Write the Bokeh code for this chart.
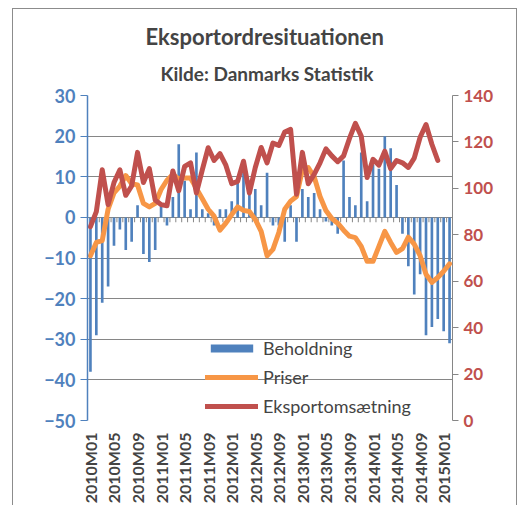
import math
from bokeh.plotting import figure
from bokeh.layouts import row
from bokeh.models import Range1d, LinearAxis, FixedTicker, Title, Legend, LegendItem, Spacer
from bokeh.embed import file_html
from bokeh.resources import INLINE

# ---------------- data ----------------
years = [2010, 2011, 2012, 2013, 2014, 2015]
months = [f"{y}M{m:02d}" for y in years for m in range(1, 13)][:62]

beholdning = [-38, -29, -21, -17, -7, -3, -8, -6, 3, -9, -11, -8,
              3, -2, 5, 18, 9, 2, 16, 2, 1, -2, 2, 2,
              4, 9, 11, 9, 7, 3, 11, -2, -2, -6, 3, -6,
              7, 5, 6, 2, -1, -2, -4, 14, 5, 3, 16, 4,
              13, 12, 20, 17, 8, -4, -12, -19, -14, -29, -27, -25,
              -28, -31]

priser = [71, 76.7, 77.5, 91, 98, 101, 105.5, 102, 101.5, 93.5, 92, 93.5,
          99.5, 103.5, 106, 104, 104.5, 104.5, 100, 95.5, 91, 88, 82, 85,
          88.7, 92, 90.5, 90, 86.6, 81.5, 71, 73.7, 81, 91, 94.5, 96.5,
          108, 109, 105, 96.5, 90.5, 87, 85, 82, 79.4, 78.8, 75, 68.6,
          68.6, 75, 81.5, 76.7, 72.4, 74, 79, 76, 71, 63, 59.5, 61.6,
          64.3, 67.5]

eksport = [83.5, 90, 108, 93, 102.5, 108, 97, 101, 115.5, 102.5, 108.5, 95,
           93, 92.5, 107.5, 99, 109.5, 111, 98, 108, 117.5, 112, 115, 110,
           102, 103, 111.7, 98, 109, 117.6, 111, 119.5, 118.5, 124.3, 125.4, 97.5,
           115.5, 102, 106, 111, 117, 114, 111.5, 114, 121.5, 128, 122.5, 104.7,
           112.5, 110, 116, 108.5, 112, 111, 109, 113, 122, 127.5, 119, 112]

title_text = "Eksportordresituationen"
subtitle_text = "Kilde: Danmarks Statistik"
left_ticks = [-50, -40, -30, -20, -10, 0, 10, 20, 30]
right_ticks = [0, 20, 40, 60, 80, 100, 120, 140]
label_step = 4

idx = list(range(len(months)))

BLUE = "#4F81BD"
ORANGE = "#F79646"
RED = "#C0504D"
GRID = "#868686"
FONT = "Lato"

p = figure(width=505, height=497,
           x_range=Range1d(-0.5, len(months) - 0.5),
           y_range=Range1d(left_ticks[0], left_ticks[-1]),
           output_backend="svg", toolbar_location=None,
           min_border_left=74, min_border_right=66,
           min_border_top=86, min_border_bottom=86,
           margin=(8, 0, 0, 5),
           styles={"border-top": "1px solid #8c8c8c",
                   "border-left": "1px solid #8c8c8c",
                   "border-right": "1px solid #8c8c8c"})
p.outline_line_color = None
p.background_fill_color = "white"
p.border_fill_color = "white"

# titles
p.title.text = title_text
p.title.align = "left"
p.title.offset = 58
p.title.text_font = FONT
p.title.text_font_size = "22px"
p.title.text_font_style = "bold"
p.title.standoff = 0
p.add_layout(Title(text=subtitle_text, align="left", offset=73,
                   text_font=FONT, text_font_size="19px",
                   text_font_style="bold", standoff=21), "above")

# grid
p.xgrid.visible = False
p.ygrid.ticker = FixedTicker(ticks=left_ticks)
p.ygrid.grid_line_color = GRID
p.ygrid.grid_line_width = 1

# left axis
ya = p.yaxis[0]
ya.ticker = FixedTicker(ticks=left_ticks)
ya.axis_line_color = BLUE
ya.axis_line_width = 1.5
ya.major_tick_line_color = BLUE
ya.major_tick_out = 7
ya.major_tick_in = 0
ya.minor_tick_line_color = None
ya.major_label_text_color = BLUE
ya.major_label_text_font = FONT
ya.major_label_text_font_style = "bold"
ya.major_label_text_font_size = "18px"
ya.major_label_standoff = 5

# right axis
p.extra_y_ranges = {"r": Range1d(right_ticks[0], right_ticks[-1])}
ra = LinearAxis(y_range_name="r", ticker=FixedTicker(ticks=right_ticks))
ra.axis_line_color = GRID
ra.major_tick_line_color = GRID
ra.major_tick_out = 6
ra.major_tick_in = 0
ra.minor_tick_line_color = None
ra.major_label_text_color = RED
ra.major_label_text_font = FONT
ra.major_label_text_font_style = "bold"
ra.major_label_text_font_size = "17px"
ra.major_label_standoff = 5
p.add_layout(ra, "right")

# bottom axis
xa = p.xaxis[0]
tick_idx = idx[::label_step]
xa.ticker = FixedTicker(ticks=tick_idx)
xa.major_label_overrides = {i: months[i] for i in tick_idx}
xa.major_label_orientation = math.pi / 2
xa.axis_line_color = None
xa.major_tick_line_color = None
xa.minor_tick_line_color = None
xa.major_label_text_font = FONT
xa.major_label_text_font_style = "bold"
xa.major_label_text_font_size = "16px"
xa.major_label_standoff = 6

# category tick marks on zero line
bounds = [i - 0.5 for i in range(len(months) + 1)]
p.segment(x0=bounds, x1=bounds, y0=[0] * len(bounds), y1=[-1.2] * len(bounds),
          line_color=GRID, line_width=1)

bars = p.vbar(x=idx, top=beholdning, bottom=0, width=0.45,
              fill_color=BLUE, line_color=None)
l_pr = p.line(idx[:len(priser)], priser, y_range_name="r", line_color=ORANGE,
              line_width=5, line_join="round", line_cap="round")
l_ek = p.line(idx[:len(eksport)], eksport, y_range_name="r", line_color=RED,
              line_width=5, line_join="round", line_cap="round")

legend = Legend(items=[LegendItem(label="Beholdning", renderers=[bars]),
                       LegendItem(label="Priser", renderers=[l_pr]),
                       LegendItem(label="Eksportomsætning", renderers=[l_ek])],
                location=(118, 3))
legend.background_fill_alpha = 0
legend.border_line_color = None
legend.padding = 0
legend.margin = 0
legend.spacing = 7
legend.glyph_width = 53
legend.glyph_height = 10
legend.label_height = 20
legend.label_standoff = 5
legend.label_text_font = FONT
legend.label_text_font_size = "18px"
p.add_layout(legend)

layout = row(Spacer(width=7, height=10), p)

open("out.html", "w").write(file_html(layout, INLINE))
